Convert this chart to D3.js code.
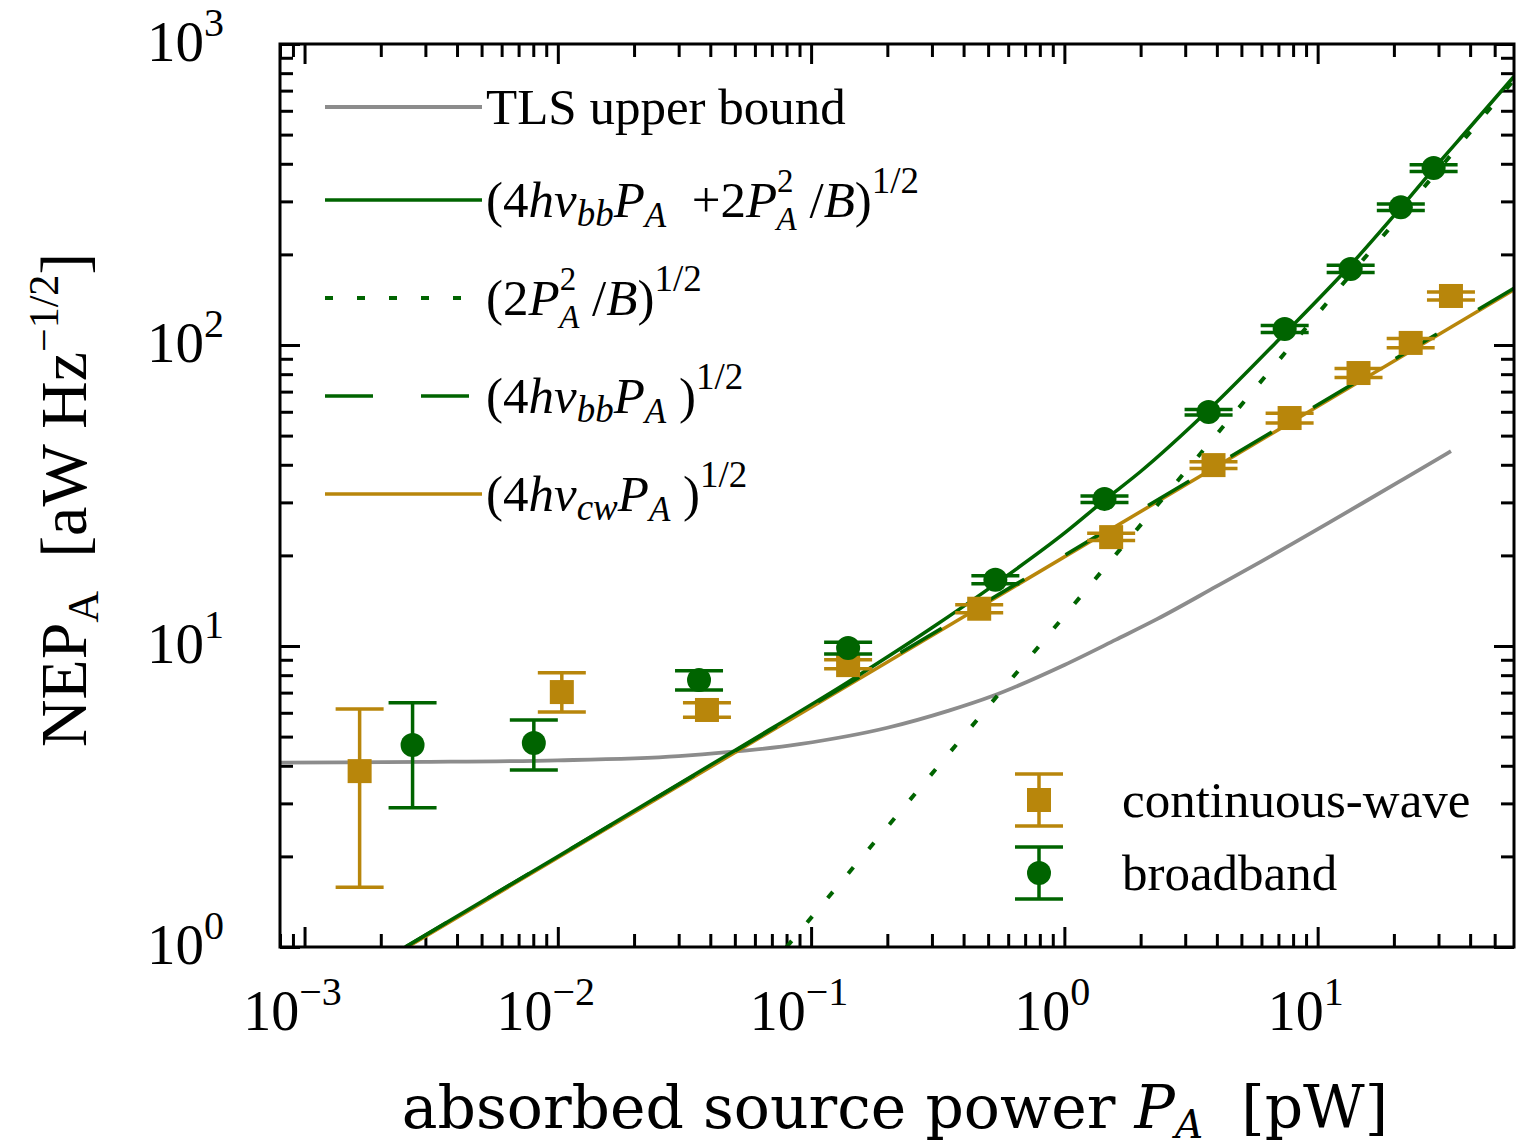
<!DOCTYPE html>
<html>
<head>
<meta charset="utf-8">
<script src="https://cdn.jsdelivr.net/npm/d3@7"></script>
<style>
  body { margin: 0; background: #fff; }
  text { font-family: "Liberation Serif", "Times New Roman", serif; fill: #000; white-space: pre; }
</style>
</head>
<body>
<div id="chart"></div>
<script>
// measured points, continuous-wave source
const cwP   = [0.00165, 0.01037, 0.0388, 0.140, 0.461, 1.53, 3.88, 7.75, 14.5, 23.3, 33.6];
const cwNEP = [3.84, 7.03, 6.13, 8.64, 13.3, 23.0, 39.9, 57.2, 80.7, 101.6, 145.5];
const cwLo  = [1.58, 6.04, 5.80, 8.4, 12.9, 22.4, 38.9, 55.1, 78.0, 98.0, 141];
const cwHi  = [6.18, 8.15, 6.48, 9.0, 13.7, 23.7, 40.9, 59.3, 83.5, 105, 150];

// measured points, broadband source
const bbP   = [0.00267, 0.00804, 0.0361, 0.140, 0.534, 1.44, 3.71, 7.41, 13.5, 21.3, 28.7];
const bbNEP = [4.69, 4.76, 7.71, 9.85, 16.6, 30.8, 59.9, 113, 179, 287, 387];
const bbLo  = [2.90, 3.87, 7.14, 9.4, 16.1, 30.0, 58.5, 110, 174, 280, 377];
const bbHi  = [6.48, 5.68, 8.28, 10.3, 17.1, 31.5, 61.0, 116, 184, 294, 397];

// curves
const tlsP   = [0.0008, 0.003, 0.01, 0.03, 0.09, 0.2, 0.35, 0.52, 1.0, 1.6, 2.33, 4.0, 6.0, 7.9, 11, 15, 22, 33.6];
const tlsNEP = [4.1, 4.12, 4.17, 4.31, 4.72, 5.35, 6.1, 6.82, 8.65, 10.5, 12.3, 15.8, 19.1, 21.8, 25.6, 29.8, 36.0, 44.4];

const totP   = [0.0025, 0.01, 0.05, 0.14, 0.3, 0.53, 1.0, 1.44, 2.0, 3.7, 7.4, 13.3, 21.3, 28.7, 40, 59.6];
const totNEP = [1.0, 2.0, 4.5, 7.6, 11.5, 16.0, 23.7, 30.5, 38, 60.7, 109, 182, 286, 385, 530, 780];

const dotP   = [0.08, 59.6];
const dotNEP = [1.0, 760];

const bbLinP   = [0.0025, 59.6];
const bbLinNEP = [1.0, 154.5];
const cwLinP   = [0.00255, 59.6];
const cwLinNEP = [1.0, 152.5];

const xTickVals = [1e-3, 1e-2, 1e-1, 1, 10];
const xTickExp  = ["\u22123", "\u22122", "\u22121", "0", "1"];
const yTickVals = [1, 10, 100, 1000];
const yTickExp  = ["0", "1", "2", "3"];

const green = "#006400", gold = "#b8860b", grey = "#8c8c8c";

const margin = { top: 44, right: 4, bottom: 201, left: 280 };
const W = 1518, H = 1148;
const width = W - margin.left - margin.right;
const height = H - margin.top - margin.bottom;

const svg = d3.select("#chart").append("svg")
    .attr("width", W)
    .attr("height", H);

const g = svg.append("g")
    .attr("transform", `translate(${margin.left},${margin.top})`);

const x = d3.scaleLog().domain([0.0008, 59.6]).range([0, width]);
const y = d3.scaleLog().domain([1, 1000]).range([height, 0]);

svg.append("defs").append("clipPath").attr("id", "clip")
  .append("rect").attr("width", width).attr("height", height);

// ticks: inward on all four sides
const isMajor = t => Math.abs(Math.log10(t) - Math.round(Math.log10(t))) < 1e-6;
const xMaj = x.ticks().filter(isMajor), xMin = x.ticks().filter(t => !isMajor(t));
const yMaj = y.ticks().filter(isMajor), yMin = y.ticks().filter(t => !isMajor(t));

function tickGroup(axis, tr) {
  g.append("g")
    .attr("transform", tr)
    .call(axis.tickFormat(""))
    .call(s => s.select(".domain").remove())
    .selectAll("line").attr("stroke", "#000").attr("stroke-width", 3);
}
[[xMaj, 20], [xMin, 13]].forEach(([vals, len]) => {
  tickGroup(d3.axisTop(x).tickValues(vals).tickSize(len), `translate(0,${height})`);
  tickGroup(d3.axisBottom(x).tickValues(vals).tickSize(len), "translate(0,0)");
});
[[yMaj, 20], [yMin, 13]].forEach(([vals, len]) => {
  tickGroup(d3.axisRight(y).tickValues(vals).tickSize(len), "translate(0,0)");
  tickGroup(d3.axisLeft(y).tickValues(vals).tickSize(len), `translate(${width},0)`);
});

// tick labels
const xl = g.append("g").selectAll("text")
  .data(xTickVals).enter().append("text")
  .attr("x", d => x(d) - 12)
  .attr("y", height + 83)
  .attr("text-anchor", "middle")
  .style("font-size", "56px");
xl.append("tspan").text("10");
xl.append("tspan").attr("dy", -25).style("font-size", "40px").text((d, i) => xTickExp[i]);

const yl = g.append("g").selectAll("text")
  .data(yTickVals).enter().append("text")
  .attr("x", -56)
  .attr("y", d => y(d) + 17)
  .attr("text-anchor", "end")
  .style("font-size", "57px");
yl.append("tspan").text("10");
yl.append("tspan").attr("dy", -25).style("font-size", "40px").text((d, i) => yTickExp[i]);

// lines
const line = d3.line().x(d => x(d[0])).y(d => y(d[1]));
const smooth = d3.line().x(d => x(d[0])).y(d => y(d[1])).curve(d3.curveMonotoneX);
const zip = (a, b) => a.map((v, i) => [v, b[i]]);
const lines = g.append("g").attr("clip-path", "url(#clip)");

lines.append("path").datum(zip(tlsP, tlsNEP))
  .attr("d", smooth).attr("fill", "none").attr("stroke", grey).attr("stroke-width", 3.8);
lines.append("path").datum(zip(cwLinP, cwLinNEP))
  .attr("d", line).attr("fill", "none").attr("stroke", gold).attr("stroke-width", 3.5);
lines.append("path").datum(zip(bbLinP, bbLinNEP))
  .attr("d", line).attr("fill", "none").attr("stroke", green).attr("stroke-width", 3.5)
  .attr("stroke-dasharray", "48,48");
lines.append("path").datum(zip(totP, totNEP))
  .attr("d", smooth).attr("fill", "none").attr("stroke", green).attr("stroke-width", 3.5);
lines.append("path").datum(zip(dotP, dotNEP))
  .attr("d", line).attr("fill", "none").attr("stroke", green).attr("stroke-width", 4)
  .attr("stroke-dasharray", "8,24");

// error bars + markers
function drawPoints(P, V, lo, hi, color, shape) {
  const pts = P.map((p, i) => ({ p: p, v: V[i], lo: lo[i], hi: hi[i] }));
  const grp = g.append("g").selectAll("g").data(pts).enter().append("g")
    .attr("transform", d => `translate(${x(d.p)},0)`);
  grp.append("line").attr("y1", d => y(d.lo)).attr("y2", d => y(d.hi))
    .attr("stroke", color).attr("stroke-width", 3.5);
  ["lo", "hi"].forEach(k => {
    grp.append("line").attr("x1", -24).attr("x2", 24)
      .attr("y1", d => y(d[k])).attr("y2", d => y(d[k]))
      .attr("stroke", color).attr("stroke-width", 3.5);
  });
  if (shape === "square") {
    grp.append("rect").attr("x", -12).attr("y", d => y(d.v) - 12)
      .attr("width", 24).attr("height", 24).attr("fill", color);
  } else {
    grp.append("circle").attr("cy", d => y(d.v)).attr("r", 12).attr("fill", color);
  }
}
drawPoints(cwP, cwNEP, cwLo, cwHi, gold, "square");
drawPoints(bbP, bbNEP, bbLo, bbHi, green, "circle");

// frame
g.append("rect").attr("width", width).attr("height", height)
  .attr("fill", "none").attr("stroke", "#000").attr("stroke-width", 3);

// line legend
const legY = [107, 200, 298, 396, 494];
const legStyle = [
  { c: grey, dash: null, w: 3.8 },
  { c: green, dash: null, w: 3.5 },
  { c: green, dash: "8,24", w: 4 },
  { c: green, dash: "48,48", w: 3.5 },
  { c: gold, dash: null, w: 3.5 }
];
legStyle.forEach((s, i) => {
  svg.append("line").attr("x1", 325).attr("x2", 482)
    .attr("y1", legY[i]).attr("y2", legY[i])
    .attr("stroke", s.c).attr("stroke-width", s.w)
    .attr("stroke-dasharray", s.dash);
});

function legText(yy) {
  return svg.append("text").attr("x", 486).attr("y", yy + 17).style("font-size", "51px");
}
function add(t, str, opt) {
  const s = t.append("tspan").text(str);
  if (!opt) return s;
  if (opt.it) s.style("font-style", "italic");
  if (opt.fs) s.style("font-size", opt.fs + "px");
  if (opt.dy) s.attr("dy", opt.dy);
  if (opt.dx) s.attr("dx", opt.dx);
  return s;
}
legText(legY[0]).text("TLS upper bound");

let t = legText(legY[1]);
add(t, "(4");
add(t, "h\u03bd", { it: 1 });
add(t, "bb", { it: 1, fs: 37, dy: 9 });
add(t, "P", { it: 1, dy: -9 });
add(t, "A", { it: 1, fs: 35, dy: 10 });
add(t, "  +2", { dy: -10 });
add(t, "P", { it: 1 });
add(t, "2", { fs: 33, dy: -25 });
add(t, "A", { it: 1, fs: 33, dy: 38, dx: -17 });
add(t, " /", { dy: -13 });
add(t, "B", { it: 1 });
add(t, ")");
add(t, "1/2", { fs: 37, dy: -24 });

t = legText(legY[2]);
add(t, "(2");
add(t, "P", { it: 1 });
add(t, "2", { fs: 33, dy: -25 });
add(t, "A", { it: 1, fs: 33, dy: 38, dx: -17 });
add(t, " /", { dy: -13 });
add(t, "B", { it: 1 });
add(t, ")");
add(t, "1/2", { fs: 37, dy: -24 });

t = legText(legY[3]);
add(t, "(4");
add(t, "h\u03bd", { it: 1 });
add(t, "bb", { it: 1, fs: 37, dy: 9 });
add(t, "P", { it: 1, dy: -9 });
add(t, "A", { it: 1, fs: 35, dy: 10 });
add(t, " )", { dy: -10 });
add(t, "1/2", { fs: 37, dy: -24 });

t = legText(legY[4]);
add(t, "(4");
add(t, "h\u03bd", { it: 1 });
add(t, "cw", { it: 1, fs: 37, dy: 9 });
add(t, "P", { it: 1, dy: -9 });
add(t, "A", { it: 1, fs: 35, dy: 10 });
add(t, " )", { dy: -10 });
add(t, "1/2", { fs: 37, dy: -24 });

// data legend
const dataLeg = [
  { name: "continuous-wave", c: gold, shape: "square", y: 800 },
  { name: "broadband", c: green, shape: "circle", y: 873 }
];
dataLeg.forEach(d => {
  const lg = svg.append("g").attr("transform", `translate(1039,${d.y})`);
  lg.append("line").attr("y1", -26).attr("y2", 26).attr("stroke", d.c).attr("stroke-width", 3.5);
  [-26, 26].forEach(v => lg.append("line").attr("x1", -24).attr("x2", 24)
    .attr("y1", v).attr("y2", v).attr("stroke", d.c).attr("stroke-width", 3.5));
  if (d.shape === "square") {
    lg.append("rect").attr("x", -12).attr("y", -12).attr("width", 24).attr("height", 24).attr("fill", d.c);
  } else {
    lg.append("circle").attr("r", 12).attr("fill", d.c);
  }
  svg.append("text").attr("x", 1122).attr("y", d.y + 17)
    .style("font-size", "51px").text(d.name);
});

// axis titles
const xt = svg.append("text").attr("x", 895).attr("y", 1128)
  .attr("text-anchor", "middle")
  .style("font-family", "'DejaVu Serif', serif")
  .style("font-size", "60px");
add(xt, "absorbed source power ");
add(xt, "P", { it: 1 });
add(xt, "A", { it: 1, fs: 39, dy: 10 });
add(xt, "  [pW]", { dy: -10 });

const yt = svg.append("text")
  .attr("transform", "translate(86,500) rotate(-90)")
  .attr("text-anchor", "middle").style("font-size", "66px");
add(yt, "NEP");
add(yt, "A", { fs: 44, dy: 12 });
add(yt, "  [aW Hz", { dy: -12 });
add(yt, "\u22121/2", { fs: 42, dy: -28 });
add(yt, "]", { dy: 28 });
</script>
</body>
</html>
